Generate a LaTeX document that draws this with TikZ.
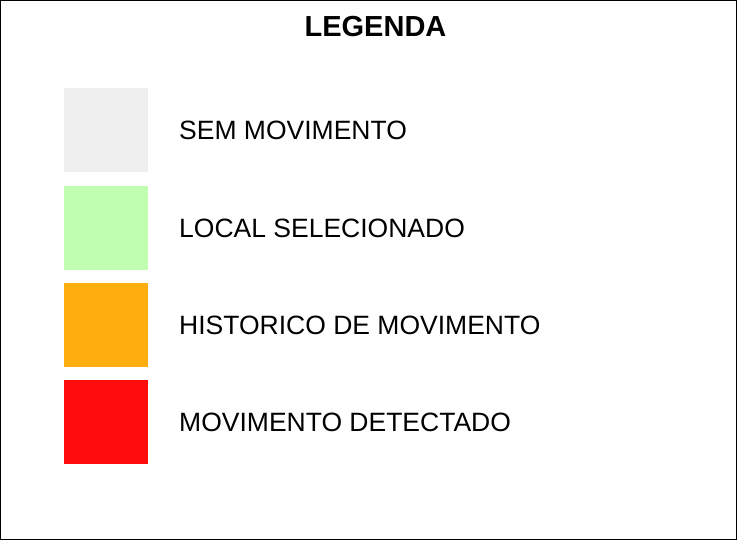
\documentclass[tikz,border=0pt]{standalone}
\usepackage{fontspec}
\setmainfont{Liberation Sans}
\usepackage{tikz}

\definecolor{semmov}{HTML}{EFEFEF}
\definecolor{localsel}{HTML}{BFFFAF}
\definecolor{histmov}{HTML}{FFAD0F}
\definecolor{movdet}{HTML}{FF0D0D}

\begin{document}
\begin{tikzpicture}[x=1pt,y=-1pt,
        swatch/.style={minimum size=84pt,inner sep=0pt,outer sep=0pt},
        legtext/.style={anchor=base west,inner sep=0pt,font=\fontsize{26.5}{30}\selectfont}]
        \useasboundingbox (0,0) rectangle (737,540);
        \draw[line width=1pt] (0.5,0.5) rectangle (736,539);

        \node[anchor=base,inner sep=0pt,font=\fontsize{29}{32}\bfseries] (titulo) at (375.5,36.5) {LEGENDA};

        \node[swatch,fill=semmov] (q1) at (106,130) {};
        \node[swatch,fill=localsel] (q2) at (106,228) {};
        \node[swatch,fill=histmov] (q3) at (106,325) {};
        \node[swatch,fill=movdet] (q4) at (106,422) {};

        \node[legtext] (t1) at (179,139.5) {SEM MOVIMENTO};
        \node[legtext] (t2) at (179,237.5) {LOCAL SELECIONADO};
        \node[legtext] (t3) at (179,334.5) {HISTORICO DE MOVIMENTO};
        \node[legtext] (t4) at (179,431.5) {MOVIMENTO DETECTADO};
\end{tikzpicture}
\end{document}
